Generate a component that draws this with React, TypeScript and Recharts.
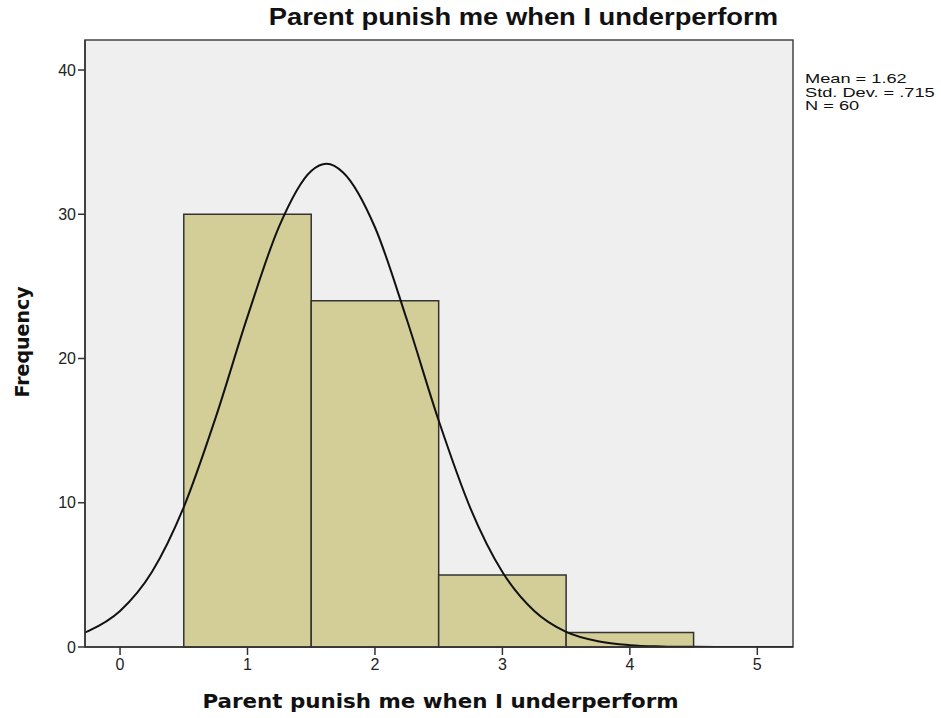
import { ComposedChart, Line, XAxis, YAxis, ReferenceArea } from "recharts";

// histogram bins (lower edge, upper edge, count)
const binStarts = [0.5, 1.5, 2.5, 3.5];
const binEnds = [1.5, 2.5, 3.5, 4.5];
const binCounts = [30, 24, 5, 1];

// fitted normal curve
const curveX = [-0.275, -0.25, 0, 0.25, 0.5, 0.75, 1, 1.25, 1.5, 1.62, 1.75, 2, 2.25, 2.5, 2.75, 3, 3.25, 3.5, 3.75, 4, 4.25, 4.5, 4.75, 5, 5.28];
const curveY = [1.0, 1.1, 2.5, 5.2, 9.7, 15.9, 22.9, 29.2, 33.0, 33.5, 32.9, 29.1, 22.7, 15.7, 9.6, 5.2, 2.5, 1.05, 0.4, 0.13, 0.04, 0.01, 0.003, 0.001, 0];

const xTicks = [0, 1, 2, 3, 4, 5];
const yTicks = [0, 10, 20, 30, 40];
const stats = ["Mean = 1.62", "Std. Dev. = .715", "N = 60"];

const X_MIN = -0.275;
const X_MAX = 5.28;
const Y_MAX = 42.08;

const curve = curveX.map((x, i) => ({ x, y: curveY[i] }));

const tickFont = { fill: "#222", fontSize: 16, fontFamily: "'Liberation Sans', Arial" };

export default function App() {
  return (
    <div style={{ position: "absolute", left: 0, top: 0, width: 941, height: 718, background: "#fff", fontFamily: "'Liberation Sans', Arial, sans-serif", overflow: "hidden" }}>
      <ComposedChart width={941} height={718} data={curve} margin={{ top: 40, right: 148, bottom: 41, left: 0 }}>
        <XAxis
          dataKey="x"
          type="number"
          domain={[X_MIN, X_MAX]}
          ticks={xTicks}
          allowDataOverflow
          height={30}
          tickSize={8}
          stroke="#333"
          strokeWidth={1.5}
          tick={{ ...tickFont, dy: 2 }}
        />
        <YAxis
          type="number"
          domain={[0, Y_MAX]}
          ticks={yTicks}
          allowDataOverflow
          width={85}
          tickSize={7}
          stroke="#333"
          strokeWidth={1.5}
          tick={tickFont}
        />
        <ReferenceArea x1={X_MIN} x2={X_MAX} y1={0} y2={Y_MAX} fill="#EFEFEF" fillOpacity={1} stroke="#444" strokeWidth={1.5} />
        {binCounts.map((c, i) => (
          <ReferenceArea
            key={i}
            x1={binStarts[i]}
            x2={binEnds[i]}
            y1={0}
            y2={c}
            fill="#D3CE98"
            fillOpacity={1}
            stroke="#333"
            strokeWidth={1.5}
          />
        ))}
        <Line dataKey="y" type="monotone" stroke="#111" strokeWidth={2} dot={false} isAnimationActive={false} />
      </ComposedChart>
      <div style={{ position: "absolute", left: 0, width: 1046, top: 3, textAlign: "center" }}>
        <span style={{ display: "inline-block", fontSize: 24, fontWeight: "bold", color: "#111", transform: "scaleX(1.14)" }}>
          Parent punish me when I underperform
        </span>
      </div>
      <div style={{ position: "absolute", left: 0, width: 880, top: 689, textAlign: "center" }}>
        <span style={{ display: "inline-block", fontSize: 20, fontWeight: "bold", color: "#111", fontFamily: "'DejaVu Sans', Verdana, sans-serif", transform: "scaleX(1.07)" }}>
          Parent punish me when I underperform
        </span>
      </div>
      <div style={{ position: "absolute", left: 22, top: 342, transform: "translate(-50%, -50%) rotate(-90deg)", fontSize: 19, fontWeight: "bold", color: "#111", fontFamily: "'DejaVu Sans', Verdana, sans-serif", whiteSpace: "nowrap" }}>
        Frequency
      </div>
      <div style={{ position: "absolute", left: 805, top: 72, fontSize: 13, lineHeight: "13.5px", color: "#111", transform: "scaleX(1.4)", transformOrigin: "left top", whiteSpace: "nowrap" }}>
        {stats.map((s) => (
          <div key={s}>{s}</div>
        ))}
      </div>
    </div>
  );
}
